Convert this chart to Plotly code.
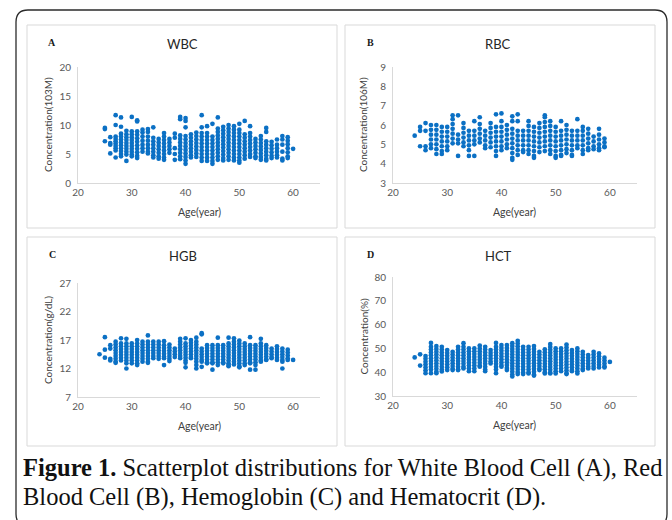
import plotly.graph_objects as go

# ---------------- data ----------------
wbc_ages = list(range(25, 61))
wbc_values = [
    [9.5, 9.3, 7.2],
    [7.9, 6.9, 6.6, 5.1],
    [11.7, 10.0, 8.0, 7.6, 7.2, 6.8, 6.4, 6.0, 5.6, 4.4],
    [11.3, 9.7, 8.5, 8.0, 7.5, 7.0, 6.5, 6.0, 5.5, 5.0, 4.6],
    [9.0, 8.4, 7.9, 7.4, 6.9, 6.4, 5.9, 5.4, 4.9, 3.8],
    [11.4, 8.9, 8.4, 7.9, 7.4, 6.9, 6.4, 5.9, 5.4, 4.9, 4.6],
    [10.8, 10.6, 8.9, 8.3, 7.7, 7.1, 6.5, 5.9, 5.3, 4.7, 4.3],
    [9.2, 8.7, 8.0, 7.3, 6.6, 6.0, 5.4],
    [9.3, 8.8, 8.0, 7.3, 6.6, 6.0, 5.4, 5.1],
    [9.6, 7.8, 7.2, 6.6, 6.0, 5.4, 4.8, 4.4],
    [7.6, 7.0, 6.4, 5.8, 5.2, 4.6, 4.2],
    [8.6, 8.0, 7.4, 6.8, 6.2, 5.6, 5.0, 4.4, 4.0],
    [7.6, 7.0, 6.4, 5.8, 5.2],
    [8.5, 7.8, 6.0, 5.0, 4.0],
    [11.4, 11.0, 8.2, 7.6, 7.0, 6.4, 5.8, 5.2, 4.6, 4.1],
    [11.2, 10.7, 9.6, 8.1, 7.5, 6.9, 6.3, 5.7, 5.1, 4.5, 3.9, 3.3],
    [8.4, 7.8, 7.2, 6.6, 6.0, 5.4, 4.8, 4.4],
    [8.7, 8.1, 7.5, 6.9, 6.3, 5.7, 5.1, 4.5],
    [11.7, 9.6, 8.6, 8.0, 7.4, 6.8, 6.2, 5.6, 5.0, 4.4, 3.8],
    [9.8, 8.6, 8.0, 7.4, 6.8, 6.2, 5.6, 5.0, 4.4, 3.8],
    [10.2, 8.0, 7.4, 6.8, 6.2, 5.6, 5.0, 4.4, 3.8, 3.3],
    [11.3, 9.4, 8.8, 8.2, 7.6, 7.0, 6.4, 5.8, 5.2, 4.6, 4.0],
    [9.7, 9.1, 8.5, 7.9, 7.3, 6.7, 6.1, 5.5, 4.9, 4.3, 3.9],
    [10.0, 9.4, 8.8, 8.2, 7.6, 7.0, 6.4, 5.8, 5.2, 4.6, 4.0],
    [9.8, 9.2, 8.6, 8.0, 7.4, 6.8, 6.2, 5.6, 5.0, 4.4, 3.9],
    [10.2, 9.2, 8.6, 8.0, 7.4, 6.8, 6.2, 5.6, 5.0, 4.4, 3.9, 3.5],
    [10.7, 8.4, 7.8, 7.2, 6.6, 6.0, 5.4, 4.8, 4.2],
    [9.8, 8.6, 8.0, 7.4, 6.8, 6.2, 5.6, 5.0, 4.5],
    [7.6, 7.0, 6.4, 5.8, 5.2, 4.6, 4.3],
    [8.1, 7.5, 6.9, 6.3, 5.7, 5.1, 4.5, 4.0],
    [9.5, 8.8, 7.2, 6.6, 6.0, 5.4, 4.8, 4.2, 3.9],
    [7.1, 6.5, 5.9, 5.3, 4.7, 4.3],
    [7.5, 6.6, 6.0, 5.4, 4.8, 4.4],
    [8.1, 7.5, 6.6, 5.4, 4.2, 3.9],
    [7.9, 7.3, 6.7, 6.0, 5.3, 4.6, 4.3],
    [5.9],
]

rbc_ages = list(range(24, 60))
rbc_values = [
    [5.45],
    [5.9, 5.7, 4.9],
    [6.1, 5.7, 4.9, 4.7],
    [6.0, 5.75, 5.5, 5.25, 5.0, 4.8],
    [6.0, 5.75, 5.5, 5.25, 5.0, 4.75, 4.5],
    [5.9, 5.65, 5.4, 5.15, 4.9, 4.65, 4.5],
    [5.9, 5.65, 5.4, 5.15, 4.9, 4.7],
    [6.5, 6.3, 6.05, 5.8, 5.55, 5.3, 5.05],
    [6.5, 5.5, 5.25, 5.05, 4.4],
    [6.1, 5.85, 5.6, 5.35, 5.1, 4.9],
    [5.7, 5.45, 5.2, 4.95, 4.7, 4.4],
    [6.2, 5.7, 5.45, 5.2, 5.0, 4.4],
    [6.4, 6.05, 5.8, 5.55, 5.3, 5.1],
    [5.7, 5.45, 5.2, 4.95, 4.8],
    [6.1, 5.85, 5.6, 5.35, 5.1, 4.85],
    [6.55, 5.9, 5.65, 5.4, 5.15, 4.9, 4.65, 4.4],
    [6.6, 6.2, 5.9, 5.65, 5.4, 5.15, 4.9, 4.7],
    [6.0, 5.75, 5.5, 5.25, 5.0, 4.8],
    [6.45, 6.2, 5.8, 5.55, 5.3, 5.05, 4.8, 4.55, 4.3, 4.2],
    [6.55, 6.2, 5.7, 5.45, 5.2, 4.95, 4.7, 4.45],
    [5.7, 5.45, 5.2, 4.95, 4.7, 4.6],
    [6.2, 5.95, 5.7, 5.45, 5.2, 4.95, 4.7, 4.5],
    [5.9, 5.65, 5.4, 5.15, 4.9, 4.65, 4.4, 4.3],
    [6.1, 5.85, 5.6, 5.35, 5.1, 4.85, 4.6],
    [6.5, 6.4, 6.15, 5.9, 5.65, 5.4, 5.15, 4.9, 4.65],
    [6.2, 5.95, 5.7, 5.45, 5.2, 4.95, 4.7, 4.5],
    [5.9, 5.65, 5.4, 5.15, 4.9, 4.65, 4.4, 4.3],
    [6.2, 5.7, 5.45, 5.2, 4.95, 4.7, 4.45, 4.4],
    [6.0, 5.75, 5.5, 5.25, 5.0, 4.75, 4.55],
    [5.7, 5.45, 5.2, 4.95, 4.7, 4.45, 4.4],
    [6.3, 5.7, 5.45, 5.2, 4.95, 4.8],
    [5.9, 5.7, 5.45, 5.2, 4.95, 4.7, 4.5],
    [5.8, 5.55, 5.3, 5.05, 4.8, 4.7],
    [5.4, 5.15, 4.9, 4.75],
    [5.8, 5.5, 5.25, 5.0, 4.8, 4.7],
    [5.3, 5.1, 4.9, 4.85],
]

hgb_ages = list(range(24, 61))
hgb_values = [
    [14.5],
    [17.5, 15.3, 13.9],
    [16.1, 15.5, 13.7, 13.4],
    [16.7, 16.2, 15.7, 15.2, 14.7, 14.2, 13.7, 13.2, 13.0],
    [17.3, 16.4, 15.9, 15.4, 14.9, 14.4, 13.9, 13.4],
    [17.2, 16.4, 15.9, 15.4, 14.9, 14.4, 13.9, 13.4, 12.9, 12.0],
    [16.4, 15.9, 15.4, 14.9, 14.4, 13.9, 13.4, 12.9],
    [17.0, 16.4, 15.9, 15.4, 14.9, 14.4, 13.9, 13.4, 12.9, 12.6],
    [16.7, 16.2, 15.7, 15.2, 14.7, 14.2, 13.7, 13.2],
    [17.8, 16.7, 16.2, 15.7, 15.2, 14.7, 14.2, 13.7, 13.2, 13.0],
    [16.7, 16.2, 15.7, 15.2, 14.7, 14.2, 13.8],
    [16.7, 16.2, 15.7, 15.2, 14.7, 14.2, 13.7],
    [16.8, 16.1, 15.6, 15.1, 14.6, 14.1, 13.8, 12.6],
    [16.2, 15.7, 15.2, 14.7, 14.2, 13.7, 13.3],
    [15.5, 15.0, 14.5, 14.0],
    [17.2, 16.7, 16.2, 15.7, 15.2, 14.7, 14.2, 13.8],
    [17.3, 16.4, 15.9, 15.4, 14.9, 14.4, 13.9, 13.4, 13.0, 12.2],
    [17.0, 16.5, 16.0, 15.5, 15.0, 14.5, 14.0, 13.8],
    [17.4, 16.7, 16.2, 15.7, 15.2, 14.7, 14.2, 13.7, 13.2, 12.6, 12.0],
    [18.2, 18.0, 15.5, 15.0, 14.5, 14.0, 13.5, 13.2, 12.3],
    [16.1, 15.6, 15.1, 14.6, 14.1, 13.6, 13.1, 12.9],
    [16.1, 15.6, 15.1, 14.6, 14.1, 13.6, 13.1, 12.9, 11.8],
    [17.4, 16.1, 15.6, 15.1, 14.6, 14.1, 13.6, 13.1, 12.6],
    [16.1, 15.6, 15.1, 14.6, 14.1, 13.6, 13.1, 12.9],
    [17.4, 16.4, 15.9, 15.4, 14.9, 14.4, 13.9, 13.4, 12.9, 12.6, 12.4],
    [17.3, 16.7, 16.2, 15.7, 15.2, 14.7, 14.2, 13.7, 13.2, 12.7],
    [16.9, 16.4, 15.9, 15.4, 14.9, 14.4, 13.9, 13.4, 12.9, 12.4, 12.2],
    [16.4, 15.9, 15.4, 14.9, 14.4, 13.9, 13.4, 12.9, 12.6],
    [17.5, 16.1, 15.6, 15.1, 14.6, 14.1, 13.6, 13.1, 12.9, 11.8],
    [16.1, 15.6, 15.1, 14.6, 14.1, 13.6, 13.1, 12.6, 11.8],
    [17.2, 16.4, 15.9, 15.4, 14.9, 14.4, 13.9, 13.4, 13.2],
    [16.1, 15.6, 15.1, 14.6, 14.1, 13.6, 13.5],
    [15.5, 15.0, 14.5, 14.0, 13.8],
    [15.9, 15.4, 14.9, 14.4, 13.9, 13.5],
    [15.5, 15.0, 14.5, 14.0, 13.5, 13.2, 12.0],
    [15.3, 14.8, 14.3, 13.8, 13.5],
    [13.5],
]

hct_ages = list(range(24, 61))
hct_values = [
    [46.2],
    [47.5, 42.8],
    [46.8, 45.6, 44.4, 43.2, 42.0, 40.8, 39.6],
    [52.3, 50.7, 49.5, 48.3, 47.1, 45.9, 44.7, 43.5, 42.3, 41.1, 39.6],
    [51.0, 49.8, 48.6, 47.4, 46.2, 45.0, 43.8, 42.6, 41.4, 40.2, 39.6],
    [50.7, 49.5, 48.3, 47.1, 45.9, 44.7, 43.5, 42.3, 41.1, 40.3],
    [49.3, 48.1, 46.9, 45.7, 44.5, 43.3, 42.1, 40.9],
    [48.6, 47.4, 46.2, 45.0, 43.8, 42.6, 41.4, 40.9],
    [50.7, 49.5, 48.3, 47.1, 45.9, 44.7, 43.5, 42.3, 41.1, 40.9],
    [52.2, 50.7, 49.5, 48.3, 47.1, 45.9, 44.7, 43.5, 42.3, 41.6],
    [50.0, 48.8, 47.6, 46.4, 45.2, 44.0, 42.8, 41.6, 40.4],
    [50.0, 48.8, 47.6, 46.4, 45.2, 44.0, 42.8, 41.6, 40.4],
    [51.2, 50.0, 48.8, 47.6, 46.4, 45.2, 44.0, 42.8, 42.3],
    [50.7, 49.5, 48.3, 47.1, 45.9, 44.7, 43.5, 42.3, 41.1, 40.4],
    [49.3, 48.1, 46.9, 45.7, 44.5, 43.7],
    [52.3, 50.7, 49.5, 48.3, 47.1, 45.9, 44.7, 43.5, 42.3, 41.1, 39.6],
    [51.4, 50.2, 49.0, 47.8, 46.6, 45.4, 44.2, 43.0, 42.3],
    [51.4, 50.2, 49.0, 47.8, 46.6, 45.4, 44.2, 43.0, 41.8, 40.9],
    [52.2, 51.0, 49.8, 48.6, 47.4, 46.2, 45.0, 43.8, 42.6, 41.4, 40.2, 39.0, 38.2],
    [53.2, 52.1, 50.9, 49.7, 48.5, 47.3, 46.1, 44.9, 43.7, 42.5, 41.3, 40.1, 39.2],
    [50.7, 49.5, 48.3, 47.1, 45.9, 44.7, 43.5, 42.3, 41.1, 39.9, 39.2],
    [50.7, 49.5, 48.3, 47.1, 45.9, 44.7, 43.5, 42.3, 41.1, 39.9, 39.5],
    [51.0, 49.8, 48.6, 47.4, 46.2, 45.0, 43.8, 42.6, 41.4, 40.2, 39.0, 38.6],
    [48.6, 47.4, 46.2, 45.0, 43.8, 42.6, 41.4, 40.9],
    [49.6, 48.4, 47.2, 46.0, 44.8, 43.6, 42.4, 41.2, 40.0, 39.5],
    [51.8, 50.6, 49.4, 48.2, 47.0, 45.8, 44.6, 43.4, 42.2, 41.0, 39.8, 39.5],
    [50.0, 48.8, 47.6, 46.4, 45.2, 44.0, 42.8, 41.6, 40.4, 39.5],
    [50.0, 48.8, 47.6, 46.4, 45.2, 44.0, 42.8, 41.6, 40.4],
    [51.6, 50.4, 49.2, 48.0, 46.8, 45.6, 44.4, 43.2, 42.0, 40.8, 39.6, 39.2],
    [49.3, 48.1, 46.9, 45.7, 44.5, 43.3, 42.1, 40.9, 40.4],
    [50.0, 48.8, 47.6, 46.4, 45.2, 44.0, 42.8, 41.6, 40.4, 39.5],
    [48.6, 47.4, 46.2, 45.0, 43.8, 42.6, 41.4, 40.9],
    [47.2, 46.0, 44.8, 43.6, 42.4, 41.6],
    [48.6, 47.4, 46.2, 45.0, 43.8, 42.6, 41.6],
    [47.9, 46.7, 45.5, 44.3, 43.1, 42.0],
    [46.1, 44.9, 43.7, 42.5, 42.0],
    [44.3],
]

x_ticks = [20, 30, 40, 50, 60]
panel_titles = ["WBC", "RBC", "HGB", "HCT"]
panel_letters = ["A", "B", "C", "D"]
y_titles = ["Concentration(103M)", "Concentration(106M)", "Concentration(g/dL)", "Concentration(%)"]
y_ranges = [[0, 20], [3, 9], [7, 27], [30, 80]]
y_ticks = [[0, 5, 10, 15, 20], [3, 4, 5, 6, 7, 8, 9], [7, 12, 17, 22, 27], [30, 40, 50, 60, 70, 80]]
x_title = "Age(year)"
caption_1 = "<b>Figure 1.</b> Scatterplot distributions for White Blood Cell (A), Red"
caption_2 = "Blood Cell (B), Hemoglobin (C) and Hematocrit (D)."

# ---------------- layout helpers ----------------
W, H = 672, 520
def fx(p):
    return p / W
def fy(p):
    return 1 - p / H

# plot-area pixel boxes: (x_left, x_right, y_top, y_bottom)
plot_boxes = [(78, 320, 67, 183), (393, 637, 67, 183), (78, 320, 283, 397), (393, 637, 277, 396)]
panel_boxes = [(27, 337, 25, 228), (345, 655, 25, 228), (27, 337, 237, 446), (345, 655, 237, 446)]

blue = "#0b70c4"
sans = "Lato, Open Sans, sans-serif"
tick_font = dict(family=sans, size=10, color="#595959")
fig = go.Figure()
layout = dict()
series = [(wbc_ages, wbc_values), (rbc_ages, rbc_values), (hgb_ages, hgb_values), (hct_ages, hct_values)]

for i, (ages, vals) in enumerate(series):
    xs, ys = [], []
    for a, col in zip(ages, vals):
        for v in col:
            xs.append(a)
            ys.append(v)
    n = "" if i == 0 else str(i + 1)
    fig.add_trace(go.Scatter(x=xs, y=ys, mode="markers", xaxis="x" + n, yaxis="y" + n,
                             marker=dict(size=4.7, color=blue, line=dict(width=0)),
                             showlegend=False, hoverinfo="x+y"))
    xl, xr, yt, yb = plot_boxes[i]
    layout["xaxis" + n] = dict(domain=[fx(xl), fx(xr)], range=[20, 65], tickvals=x_ticks,
                               anchor="y" + n, showline=True, linecolor="#d9d9d9", linewidth=1,
                               showgrid=False, zeroline=False, ticks="", tickfont=tick_font,
                               automargin=False, fixedrange=True)
    layout["yaxis" + n] = dict(domain=[fy(yb), fy(yt)], range=y_ranges[i], tickvals=y_ticks[i],
                               anchor="x" + n, showline=True, linecolor="#d9d9d9", linewidth=1,
                               showgrid=False, zeroline=False, ticks="", tickfont=tick_font,
                               ticklabelstandoff=4, automargin=False, fixedrange=True)

annotations = []
shapes = []
for i in range(4):
    xl, xr, yt, yb = plot_boxes[i]
    pl, pr, pt, pb = panel_boxes[i]
    shapes.append(dict(type="rect", xref="paper", yref="paper", x0=fx(pl), x1=fx(pr), y0=fy(pb), y1=fy(pt),
                       line=dict(color="#d9d9d9", width=1), layer="below"))
    annotations.append(dict(text=panel_titles[i], xref="paper", yref="paper",
                            x=fx(xl + 105), y=fy(pt + 19), xanchor="center", yanchor="middle",
                            showarrow=False, font=dict(family=sans, size=13, color="#262626")))
    annotations.append(dict(text="<b>" + panel_letters[i] + "</b>", xref="paper", yref="paper",
                            x=fx(pl + 25), y=fy(pt + 17), xanchor="center", yanchor="middle",
                            showarrow=False, font=dict(family="Liberation Serif, serif", size=10, color="#1a1a1a")))
    annotations.append(dict(text=y_titles[i], xref="paper", yref="paper", textangle=-90,
                            x=fx(xl - 30), y=fy((yt + yb) / 2), xanchor="center", yanchor="middle",
                            showarrow=False, font=dict(family=sans, size=10, color="#404040")))
    annotations.append(dict(text=x_title, xref="paper", yref="paper",
                            x=fx(xl + 121), y=fy(yb + 29), xanchor="center", yanchor="middle",
                            showarrow=False, font=dict(family=sans, size=10.5, color="#404040")))

annotations.append(dict(text=caption_1, xref="paper", yref="paper", x=fx(21), y=fy(468),
                        xanchor="left", yanchor="middle", showarrow=False,
                        font=dict(family="Liberation Serif, Times New Roman, serif", size=24.5, color="#111111")))
annotations.append(dict(text=caption_2, xref="paper", yref="paper", x=fx(21), y=fy(497),
                        xanchor="left", yanchor="middle", showarrow=False,
                        font=dict(family="Liberation Serif, Times New Roman, serif", size=24.5, color="#111111")))

# outer rounded frame
L, R, T, B, r = 16, 667, 10, 526, 12
path = (f"M {fx(L)},{fy(T + r)} Q {fx(L)},{fy(T)} {fx(L + r)},{fy(T)} "
        f"L {fx(R - r)},{fy(T)} Q {fx(R)},{fy(T)} {fx(R)},{fy(T + r)} "
        f"L {fx(R)},{fy(B - r)} Q {fx(R)},{fy(B)} {fx(R - r)},{fy(B)} "
        f"L {fx(L + r)},{fy(B)} Q {fx(L)},{fy(B)} {fx(L)},{fy(B - r)} Z")
shapes.append(dict(type="path", xref="paper", yref="paper", path=path,
                   line=dict(color="#2b2b2b", width=1.3), layer="below"))

fig.update_layout(width=W, height=H, margin=dict(l=0, r=0, t=0, b=0, autoexpand=False),
                  paper_bgcolor="white", plot_bgcolor="rgba(0,0,0,0)",
                  annotations=annotations, shapes=shapes, **layout)
fig.write_html("out.html", config={"displayModeBar": False},
               post_script="document.body.style.margin='0';document.body.style.overflow='hidden';")
